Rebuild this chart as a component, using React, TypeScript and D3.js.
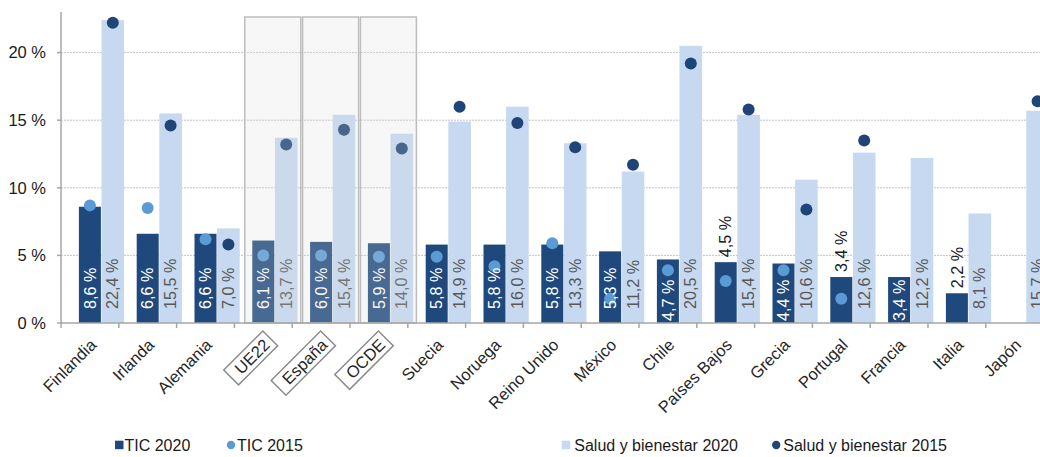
import React, { useEffect, useRef } from "react";
import * as d3 from "d3";

const categories = ["Finlandia", "Irlanda", "Alemania", "UE22", "España", "OCDE", "Suecia", "Noruega", "Reino Unido", "México", "Chile", "Países Bajos", "Grecia", "Portugal", "Francia", "Italia", "Japón"];
const tic2020: (number | null)[] = [8.6, 6.6, 6.6, 6.1, 6.0, 5.9, 5.8, 5.8, 5.8, 5.3, 4.7, 4.5, 4.4, 3.4, 3.4, 2.2, null];
const salud2020: (number | null)[] = [22.4, 15.5, 7.0, 13.7, 15.4, 14.0, 14.9, 16.0, 13.3, 11.2, 20.5, 15.4, 10.6, 12.6, 12.2, 8.1, 15.7];
const tic2015: (number | null)[] = [8.7, 8.5, 6.2, 5.0, 5.0, 4.9, 4.9, 4.2, 5.9, 1.8, 3.9, 3.1, 3.9, 1.8, null, null, null];
const salud2015: (number | null)[] = [22.2, 14.6, 5.8, 13.2, 14.3, 12.9, 16.0, 14.8, 13.0, 11.7, 19.2, 15.8, 8.4, 13.5, null, null, 16.4];
const yTicks = [0, 5, 10, 15, 20];
const highlighted = ["UE22", "España", "OCDE"];
const ticLabelsOutside = ["Países Bajos", "Portugal", "Italia"];
const legendItems = [
  { label: "TIC 2020", shape: "square", key: "tic2020" },
  { label: "TIC 2015", shape: "circle", key: "tic2015" },
  { label: "Salud y bienestar 2020", shape: "square", key: "salud2020" },
  { label: "Salud y bienestar 2015", shape: "circle", key: "salud2015" },
];

const W = 1040;
const H = 457;
const FONT = "'Liberation Sans', Arial, sans-serif";
const C = {
  tic2020: "#1f497d",
  salud2020: "#c6d9f0",
  tic2015: "#5b9bd5",
  salud2015: "#1f4478",
};

const fmt = (v: number) => d3.format(".1f")(v).replace(".", ",") + " %";

export default function App() {
  const ref = useRef<SVGSVGElement>(null);

  useEffect(() => {
    const svg = d3.select(ref.current);
    svg.selectAll("*").remove();

    const x0 = 61;
    const bw = 57.8;
    const x = d3.scaleBand<string>().domain(categories).range([x0, x0 + bw * categories.length]).padding(0);
    const y = d3.scaleLinear().domain([0, 23]).range([323, 323 - 23 * 13.52]);
    const c = (cat: string) => (x(cat) as number) + x.bandwidth() / 2;

    const darkW = 22;
    const lightOff = 11.6;
    const lightW = 22.6;

    // gridlines
    svg.append("g")
      .selectAll("line")
      .data(yTicks.filter((t) => t > 0))
      .join("line")
      .attr("x1", x0)
      .attr("x2", W)
      .attr("y1", (d) => y(d))
      .attr("y2", (d) => y(d))
      .attr("stroke", "#c4c4c4")
      .attr("stroke-width", 1)
      .attr("stroke-dasharray", "2,1");

    // light bars
    svg.append("g")
      .selectAll("rect")
      .data(categories.map((cat, i) => ({ cat, v: salud2020[i] })).filter((d) => d.v != null))
      .join("rect")
      .attr("x", (d) => c(d.cat) + lightOff)
      .attr("width", lightW)
      .attr("y", (d) => y(d.v as number))
      .attr("height", (d) => y(0) - y(d.v as number))
      .attr("fill", C.salud2020);

    // dark bars
    svg.append("g")
      .selectAll("rect")
      .data(categories.map((cat, i) => ({ cat, v: tic2020[i] })).filter((d) => d.v != null))
      .join("rect")
      .attr("x", (d) => c(d.cat) - darkW / 2)
      .attr("width", darkW)
      .attr("y", (d) => y(d.v as number))
      .attr("height", (d) => y(0) - y(d.v as number))
      .attr("fill", C.tic2020);

    // dots
    svg.append("g")
      .selectAll("circle")
      .data(categories.map((cat, i) => ({ cat, v: tic2015[i] })).filter((d) => d.v != null))
      .join("circle")
      .attr("cx", (d) => c(d.cat))
      .attr("cy", (d) => y(d.v as number))
      .attr("r", 6)
      .attr("fill", C.tic2015);
    svg.append("g")
      .selectAll("circle")
      .data(categories.map((cat, i) => ({ cat, v: salud2015[i] })).filter((d) => d.v != null))
      .join("circle")
      .attr("cx", (d) => c(d.cat) + lightOff + lightW / 2)
      .attr("cy", (d) => y(d.v as number))
      .attr("r", 6)
      .attr("fill", C.salud2015);

    // data labels
    const lab = svg.append("g").attr("font-family", FONT).attr("font-size", 16.2);
    categories.forEach((cat, i) => {
      const tv = tic2020[i];
      if (tv != null) {
        const outside = ticLabelsOutside.includes(cat);
        let by: number;
        let fill: string;
        if (outside) {
          by = y(tv) - 5;
          fill = "#1a1a1a";
        } else if (tv < 5) {
          by = 321;
          fill = "#ffffff";
        } else {
          by = 309;
          fill = "#ffffff";
        }
        lab.append("text")
          .attr("transform", `translate(${c(cat)},${by}) rotate(-90)`)
          .attr("dy", "0.35em")
          .attr("fill", fill)
          .text(fmt(tv));
      }
      const sv = salud2020[i];
      if (sv != null) {
        lab.append("text")
          .attr("transform", `translate(${c(cat) + lightOff + lightW / 2},309) rotate(-90)`)
          .attr("dy", "0.35em")
          .attr("fill", "#595959")
          .text(fmt(sv));
      }
    });

    // highlight boxes overlay
    svg.append("g")
      .selectAll("rect")
      .data(highlighted)
      .join("rect")
      .attr("x", (d) => c(d) - 18.5)
      .attr("width", 56)
      .attr("y", 17)
      .attr("height", y(0) - 17)
      .attr("fill", "#d9d9d9")
      .attr("fill-opacity", 0.22)
      .attr("stroke", "#bdbdbd")
      .attr("stroke-width", 1.5);

    // axes
    const ax = svg.append("g").attr("stroke", "#a6a6a6").attr("stroke-width", 1.5);
    ax.append("line").attr("x1", x0).attr("x2", x0).attr("y1", y(23)).attr("y2", y(0));
    ax.append("line").attr("x1", x0).attr("x2", W).attr("y1", y(0)).attr("y2", y(0));
    ax.selectAll(".yt")
      .data(yTicks)
      .join("line")
      .attr("x1", x0 - 4)
      .attr("x2", x0)
      .attr("y1", (d) => y(d))
      .attr("y2", (d) => y(d));
    ax.selectAll(".xt")
      .data(d3.range(categories.length + 1))
      .join("line")
      .attr("x1", (i) => x0 + i * bw)
      .attr("x2", (i) => x0 + i * bw)
      .attr("y1", y(0))
      .attr("y2", y(0) + 5);

    // y labels
    svg.append("g")
      .attr("font-family", FONT)
      .attr("font-size", 16.5)
      .attr("fill", "#1a1a1a")
      .selectAll("text")
      .data(yTicks)
      .join("text")
      .attr("x", 46)
      .attr("y", (d) => y(d))
      .attr("dy", "0.35em")
      .attr("text-anchor", "end")
      .text((d) => `${d} %`);

    // x labels
    const xl = svg.append("g").attr("font-family", FONT).attr("font-size", 16.5).attr("fill", "#262626");
    categories.forEach((cat) => {
      const g = xl.append("g").attr("transform", `translate(${c(cat) + 7.5},346) rotate(-45)`);
      const t = g.append("text").attr("text-anchor", "end").text(cat);
      if (highlighted.includes(cat)) {
        const len = (t.node() as SVGTextElement).getComputedTextLength();
        g.insert("rect", "text")
          .attr("x", -len - 9)
          .attr("width", len + 14)
          .attr("y", -5.8 - 10.5)
          .attr("height", 21)
          .attr("fill", "#ffffff")
          .attr("stroke", "#8c8c8c")
          .attr("stroke-width", 1.5);
      }
    });

    // legend
    const lg = svg.append("g").attr("font-family", FONT).attr("font-size", 16).attr("fill", "#1a1a1a");
    const pos = [
      { mx: 115, tx: 124.5 },
      { mx: 226.8, tx: 237 },
      { mx: 561.7, tx: 574.3 },
      { mx: 772, tx: 783.3 },
    ];
    legendItems.forEach((it, i) => {
      const p = pos[i];
      const col = (C as any)[it.key];
      if (it.shape === "square") {
        lg.append("rect").attr("x", p.mx).attr("y", 440.7).attr("width", 8.5).attr("height", 8.5).attr("fill", col);
      } else {
        lg.append("circle").attr("cx", p.mx + 4.2).attr("cy", 445).attr("r", 4.2).attr("fill", col);
      }
      lg.append("text").attr("x", p.tx).attr("y", 450.5).text(it.label);
    });
  }, []);

  return (
    <svg
      ref={ref}
      width={W}
      height={H}
      style={{ position: "absolute", left: 0, top: 0, background: "#ffffff" }}
    />
  );
}
